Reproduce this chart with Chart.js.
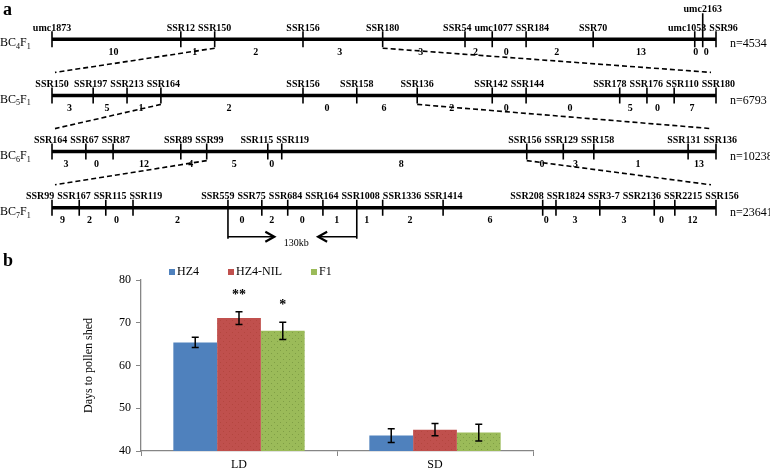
<!DOCTYPE html>
<html><head><meta charset="utf-8">
<script src="https://cdn.jsdelivr.net/npm/chart.js@4.4.0/dist/chart.umd.min.js"></script>
<style>
html,body{margin:0;padding:0;background:#fff;}
#wrap{position:relative;width:770px;height:469px;overflow:hidden;background:#fff;}
#map{position:absolute;left:0;top:0;}
#bar{position:absolute;left:0;top:250px;}
</style></head><body>
<div id="wrap"><canvas id="map" width="770" height="250"></canvas><canvas id="bar" width="770" height="219"></canvas></div>
<script>
// ================= DATA: panel a (fine mapping) =================
const generations = ['BC4F1', 'BC5F1', 'BC6F1', 'BC7F1'];
const populationSizes = [4534, 6793, 10238, 23641];

const markersBC4F1 = ['umc1873','SSR12','SSR150','SSR156','SSR180','SSR54','umc1077','SSR184','SSR70','umc1053','umc2163','SSR96'];
const positionsBC4F1 = [0,194,245,378,498,622,663,714,815,968,980,1000];
const recombinantsBC4F1 = [10,1,2,3,3,2,0,2,13,0,0];

const markersBC5F1 = ['SSR150','SSR197','SSR213','SSR164','SSR156','SSR158','SSR136','SSR142','SSR144','SSR178','SSR176','SSR110','SSR180'];
const positionsBC5F1 = [0,62,113,164,378,459,550,663,714,855,896,937,1000];
const recombinantsBC5F1 = [3,5,1,2,0,6,2,0,0,5,0,7];

const markersBC6F1 = ['SSR164','SSR67','SSR87','SSR89','SSR99','SSR115','SSR119','SSR156','SSR129','SSR158','SSR131','SSR136'];
const positionsBC6F1 = [0,51,92,194,233,325,346,715,770,816,958,1000];
const recombinantsBC6F1 = [3,0,12,4,5,0,8,0,3,1,13];

const markersBC7F1 = ['SSR99','SSR167','SSR115','SSR119','SSR559','SSR75','SSR684','SSR164','SSR1008','SSR1336','SSR1414','SSR208','SSR1824','SSR3-7','SSR2136','SSR2215','SSR156'];
const positionsBC7F1 = [0,41,81,122,265,316,355,408,459,498,589,739,759,825,907,938,1000];
const recombinantsBC7F1 = [9,2,0,2,0,2,0,1,1,2,6,0,3,3,0,12];

const raisedMarkers = ['umc2163'];
const physicalInterval = ['SSR559', 'SSR1008'];
const physicalIntervalLabel = '130kb';

// ================= DATA: panel b (flowering) =================
const conditions = ['LD', 'SD'];
const genotypes = ['HZ4', 'HZ4-NIL', 'F1'];
const hz4Days = [65.4, 43.6];
const nilDays = [71.1, 45.0];
const f1Days = [68.1, 44.3];
const hz4Err = [1.2, 1.6];
const nilErr = [1.5, 1.45];
const f1Err = [2.0, 1.95];
const hz4Sig = ['', ''];
const nilSig = ['**', ''];
const f1Sig = ['*', ''];
const yTicks = [40, 50, 60, 70, 80];

// ================= STYLE / GEOMETRY =================
const SERIF = '"Liberation Serif", "Times New Roman", serif';
const MAP_W = 770, MAP_H = 250;
const X_PX_PER_UNIT = 0.664, X_LEFT_PX = 52;
const Y_PX_PER_ROW = 56.2, Y_TOP_PX = 39.2;
const ux = px => px / X_PX_PER_UNIT;
const uy = px => px / Y_PX_PER_ROW;
const barColors = ['#4F81BD', '#C0504D', '#9BBB59'];

const rows = generations.map((g, i) => ({
  name: g,
  markers: [markersBC4F1, markersBC5F1, markersBC6F1, markersBC7F1][i],
  pos: [positionsBC4F1, positionsBC5F1, positionsBC6F1, positionsBC7F1][i],
  rec: [recombinantsBC4F1, recombinantsBC5F1, recombinantsBC6F1, recombinantsBC7F1][i],
  n: populationSizes[i]
}));

function seg(pts, width, dash) {
  return { data: pts, showLine: true, borderColor: '#000', borderWidth: width, borderDash: dash || [],
           pointRadius: 0, fill: false, tension: 0, borderCapStyle: 'butt' };
}

const mapDatasets = [];
const lastRow = rows.length - 1;
rows.forEach((r, i) => {
  const last = r.pos.length - 1;
  mapDatasets.push(seg([{ x: r.pos[0], y: i }, { x: r.pos[last], y: i }], 3.5));
  r.markers.forEach((m, k) => {
    const x = r.pos[k];
    let top = i - uy(8), bot = i + uy(8);
    if (i === 0 && raisedMarkers.includes(m)) top = i - uy(26);
    if (i === lastRow && physicalInterval.includes(m)) bot = i + uy(31);
    mapDatasets.push(seg([{ x, y: top }, { x, y: bot }], 1.6));
  });
});
// dashed connectors from flanking markers to the next generation
for (let i = 0; i < rows.length - 1; i++) {
  const cur = rows[i], nxt = rows[i + 1];
  const nl = nxt.pos.length - 1;
  const xl = cur.pos[cur.markers.indexOf(nxt.markers[0])];
  const xr = cur.pos[cur.markers.indexOf(nxt.markers[nl])];
  mapDatasets.push(seg([{ x: xl, y: i + uy(9) }, { x: nxt.pos[0] + ux(3), y: i + 1 - uy(23) }], 1.6, [5, 3]));
  mapDatasets.push(seg([{ x: xr, y: i + uy(9) }, { x: nxt.pos[nl] - ux(5), y: i + 1 - uy(23) }], 1.6, [5, 3]));
}
// physical interval arrows
const r7 = rows[lastRow];
const pa = r7.pos[r7.markers.indexOf(physicalInterval[0])];
const pb = r7.pos[r7.markers.indexOf(physicalInterval[1])];
const ay = lastRow + uy(29);
const hl = pa + 0.36 * (pb - pa), hr = pb - 0.30 * (pb - pa);
mapDatasets.push(seg([{ x: pa, y: ay }, { x: hl, y: ay }], 1.6));
mapDatasets.push(seg([{ x: hl - ux(9), y: ay - uy(5) }, { x: hl, y: ay }, { x: hl - ux(9), y: ay + uy(5) }], 2.2));
mapDatasets.push(seg([{ x: hr, y: ay }, { x: pb, y: ay }], 1.6));
mapDatasets.push(seg([{ x: hr + ux(9), y: ay - uy(5) }, { x: hr, y: ay }, { x: hr + ux(9), y: ay + uy(5) }], 2.2));

function relax(items, gap) {
  for (let it = 0; it < 200; it++) {
    let moved = false;
    for (let k = 0; k < items.length - 1; k++) {
      const a = items[k], b = items[k + 1];
      const ov = (a.x + a.w / 2 + gap) - (b.x - b.w / 2);
      if (ov > 0.01) { a.x -= ov / 2; b.x += ov / 2; moved = true; }
    }
    if (!moved) break;
  }
}

function drawGen(ctx, name, x, y) {
  const parts = name.match(/[A-Za-z]+|\d+/g);
  ctx.textAlign = 'left'; ctx.textBaseline = 'middle';
  parts.forEach(p => {
    if (/\d/.test(p)) { ctx.font = '8px ' + SERIF; ctx.fillText(p, x, y + 4); }
    else { ctx.font = '12px ' + SERIF; ctx.fillText(p, x, y); }
    x += ctx.measureText(p).width;
  });
}

const mapTextPlugin = {
  id: 'mapText',
  afterDatasetsDraw(chart) {
    const { ctx } = chart; const xs = chart.scales.x, ys = chart.scales.y;
    ctx.save();
    ctx.fillStyle = '#000';
    ctx.font = 'bold 18px ' + SERIF; ctx.textAlign = 'left'; ctx.textBaseline = 'alphabetic';
    ctx.fillText('a', 3, 15);
    rows.forEach((r, i) => {
      const py = ys.getPixelForValue(i);
      drawGen(ctx, r.name, 0, py + 4);
      ctx.font = 'bold 10px ' + SERIF; ctx.textAlign = 'center'; ctx.textBaseline = 'middle';
      const items = [];
      r.markers.forEach((m, k) => {
        const px = xs.getPixelForValue(r.pos[k]);
        if (i === 0 && raisedMarkers.includes(m)) { ctx.fillText(m, px, py - 30); return; }
        items.push({ t: m, x: px, w: ctx.measureText(m).width });
      });
      relax(items, 3);
      items.forEach(it => ctx.fillText(it.t, it.x, py - 11));
      r.rec.forEach((c, k) => {
        const mx = (xs.getPixelForValue(r.pos[k]) + xs.getPixelForValue(r.pos[k + 1])) / 2 - 3;
        ctx.fillText(String(c), mx, py + 13);
      });
      ctx.font = '12px ' + SERIF; ctx.textAlign = 'left';
      ctx.fillText('n=' + r.n, xs.getPixelForValue(r.pos[r.pos.length - 1]) + 14, py + 5);
    });
    ctx.font = '10px ' + SERIF; ctx.textAlign = 'center'; ctx.textBaseline = 'middle';
    ctx.fillText(physicalIntervalLabel, (xs.getPixelForValue(hl) + xs.getPixelForValue(hr)) / 2, ys.getPixelForValue(ay) + 7);
    ctx.restore();
  }
};

new Chart(document.getElementById('map'), {
  type: 'scatter',
  data: { datasets: mapDatasets },
  options: {
    responsive: false, animation: false, devicePixelRatio: 1, events: [],
    layout: { padding: 0 },
    plugins: { legend: { display: false }, tooltip: { enabled: false } },
    scales: {
      x: { type: 'linear', display: false, min: -X_LEFT_PX / X_PX_PER_UNIT, max: (MAP_W - X_LEFT_PX) / X_PX_PER_UNIT },
      y: { type: 'linear', display: false, reverse: true, min: -Y_TOP_PX / Y_PX_PER_ROW, max: (MAP_H - Y_TOP_PX) / Y_PX_PER_ROW }
    }
  },
  plugins: [mapTextPlugin]
});

// ================= panel b =================
const barCanvas = document.getElementById('bar');
const bctx = barCanvas.getContext('2d');
function dotPattern(base, dot, step) {
  const c = document.createElement('canvas'); c.width = step; c.height = step;
  const g = c.getContext('2d');
  g.fillStyle = base; g.fillRect(0, 0, step, step);
  g.fillStyle = dot; g.fillRect(1, 1, 1, 1); g.fillRect(Math.floor(step / 2) + 1, Math.floor(step / 2) + 1, 1, 1);
  return bctx.createPattern(c, 'repeat');
}
const fills = [barColors[0], dotPattern(barColors[1], '#B4463F', 6), dotPattern(barColors[2], '#7F9E45', 6)];
const errLists = [hz4Err, nilErr, f1Err];
const sigLists = [hz4Sig, nilSig, f1Sig];

const barPlugin = {
  id: 'barExtras',
  afterDatasetsDraw(chart) {
    const ctx = chart.ctx, ys = chart.scales.y;
    ctx.save();
    chart.data.datasets.forEach((ds, di) => {
      chart.getDatasetMeta(di).data.forEach((bar, k) => {
        const v = ds.data[k], e = errLists[di][k];
        const t = ys.getPixelForValue(v + e), b = ys.getPixelForValue(v - e);
        ctx.beginPath();
        ctx.moveTo(bar.x, t); ctx.lineTo(bar.x, b);
        ctx.moveTo(bar.x - 3.5, t); ctx.lineTo(bar.x + 3.5, t);
        ctx.moveTo(bar.x - 3.5, b); ctx.lineTo(bar.x + 3.5, b);
        ctx.lineWidth = 1.5; ctx.strokeStyle = '#000'; ctx.stroke();
        const s = sigLists[di][k];
        if (s) {
          ctx.fillStyle = '#000'; ctx.font = 'bold 14px ' + SERIF;
          ctx.textAlign = 'center'; ctx.textBaseline = 'alphabetic';
          ctx.fillText(s, bar.x, t - 13);
        }
      });
    });
    ctx.restore();
  },
  afterDraw(chart) {
    const ctx = chart.ctx;
    ctx.save();
    ctx.fillStyle = '#000'; ctx.font = 'bold 18px ' + SERIF; ctx.textAlign = 'left'; ctx.textBaseline = 'alphabetic';
    ctx.fillText('b', 3, 16);
    // legend
    ctx.font = '12px ' + SERIF; ctx.textBaseline = 'middle';
    let x = 169; const y = 22;
    chart.data.datasets.forEach((ds, di) => {
      ctx.fillStyle = barColors[di]; ctx.fillRect(x, y - 3, 6, 6);
      ctx.fillStyle = '#000'; ctx.fillText(ds.label, x + 8, y);
      x += 8 + ctx.measureText(ds.label).width + 29;
    });
    ctx.restore();
  }
};

new Chart(barCanvas, {
  type: 'bar',
  data: {
    labels: conditions,
    datasets: [
      { label: genotypes[0], data: hz4Days, backgroundColor: fills[0] },
      { label: genotypes[1], data: nilDays, backgroundColor: fills[1] },
      { label: genotypes[2], data: f1Days, backgroundColor: fills[2] }
    ]
  },
  options: {
    responsive: false, animation: false, devicePixelRatio: 1, events: [],
    layout: { padding: { left: 78, right: 237, top: 30, bottom: 0 } },
    datasets: { bar: { categoryPercentage: 0.67, barPercentage: 1.0, borderWidth: 0 } },
    plugins: { legend: { display: false }, tooltip: { enabled: false } },
    scales: {
      x: {
        grid: { display: true, drawOnChartArea: false, drawTicks: true, tickLength: 5, color: '#868686', offset: true },
        border: { color: '#868686', width: 1.3 },
        ticks: { font: { family: SERIF, size: 12 }, color: '#000', padding: 2 },
        afterFit(s) { s.height = 18; }
      },
      y: {
        min: yTicks[0], max: yTicks[yTicks.length - 1],
        afterBuildTicks(s) { s.ticks = yTicks.map(v => ({ value: v })); },
        ticks: { font: { family: SERIF, size: 12 }, color: '#000', padding: 5 },
        grid: { display: true, drawOnChartArea: false, drawTicks: true, tickLength: 5, color: '#868686' },
        border: { color: '#868686', width: 1.3 },
        title: { display: true, text: 'Days to pollen shed', font: { family: SERIF, size: 12 }, color: '#000' },
        afterFit(s) { s.width = 63; }
      }
    }
  },
  plugins: [barPlugin]
});
</script>
</body></html>
